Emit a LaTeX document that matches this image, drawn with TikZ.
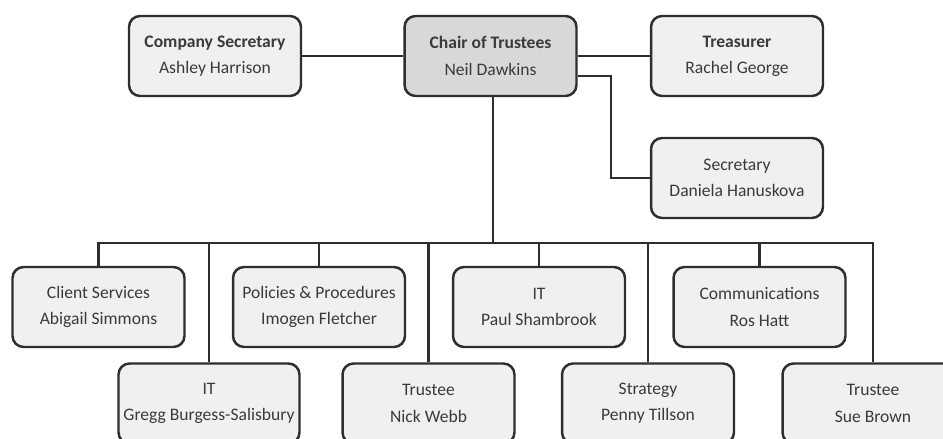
\documentclass[tikz,border=0pt]{standalone}
\usepackage{fontspec}
\setmainfont{Carlito}
\usepackage{tikz}

\definecolor{linea}{HTML}{2E2E2E}
\definecolor{relleno}{HTML}{F0F0F0}
\definecolor{rellenojefe}{HTML}{D8D8D8}
\definecolor{texto}{HTML}{3A3A3A}

\begin{document}
\begin{tikzpicture}[x=0.02cm, y=-0.02cm,
  role/.style={draw=linea, fill=relleno, line width=1.4pt, rounded corners=0.22cm,
    minimum width=3.44cm, minimum height=1.6cm, inner sep=0pt, align=center,
    text=texto, font=\fontsize{10}{15}\selectfont},
  chair/.style={role, fill=rellenojefe},
  wide/.style={role, minimum width=3.62cm},
  enlace/.style={draw=linea, line width=1.3pt}
]
  \path[use as bounding box, clip] (0,0) rectangle (943,439);

  % top row
  \node[role]  (csec)  at (215,56)   {\textbf{Company Secretary}\\Ashley Harrison};
  \node[chair] (chair) at (490.5,56) {\textbf{Chair of Trustees}\\Neil Dawkins};
  \node[role]  (treas) at (737,56)   {\textbf{Treasurer}\\Rachel George};
  \node[role]  (sec)   at (737,178)  {Secretary\\Daniela Hanuskova};

  % first row of trustees
  \node[role] (client)   at (98.5,307)  {Client Services\\Abigail Simmons};
  \node[role] (policies) at (319,307)   {Policies \& Procedures\\Imogen Fletcher};
  \node[role] (paulit)   at (539,307)   {IT\\Paul Shambrook};
  \node[role] (comms)    at (759.5,307) {Communications\\Ros Hatt};

  % second row of trustees
  \node[wide] (greggit)  at (209,403.5)   {IT\\Gregg Burgess-Salisbury};
  \node[role] (nick)     at (428.5,403.5) {Trustee\\Nick Webb};
  \node[role] (strategy) at (648,403.5)   {Strategy\\Penny Tillson};
  \node[wide] (sue)      at (873,403.5)   {Trustee\\Sue Brown};

  \coordinate (bus)  at (493,243);
  \coordinate (codo) at (611,76);

  \draw[enlace] (csec) -- (chair) -- (treas);
  \draw[enlace] (chair.east |- codo) -- (codo) |- (sec.west);
  \draw[enlace] (chair.south -| bus) -- (bus);
  \draw[enlace] (client.north) -- (client.north |- bus) -- (sue.north |- bus) -- (sue.north);
  \foreach \n in {policies, paulit, comms, greggit, nick, strategy}
    \draw[enlace] (\n.north) -- (\n.north |- bus);
\end{tikzpicture}
\end{document}
